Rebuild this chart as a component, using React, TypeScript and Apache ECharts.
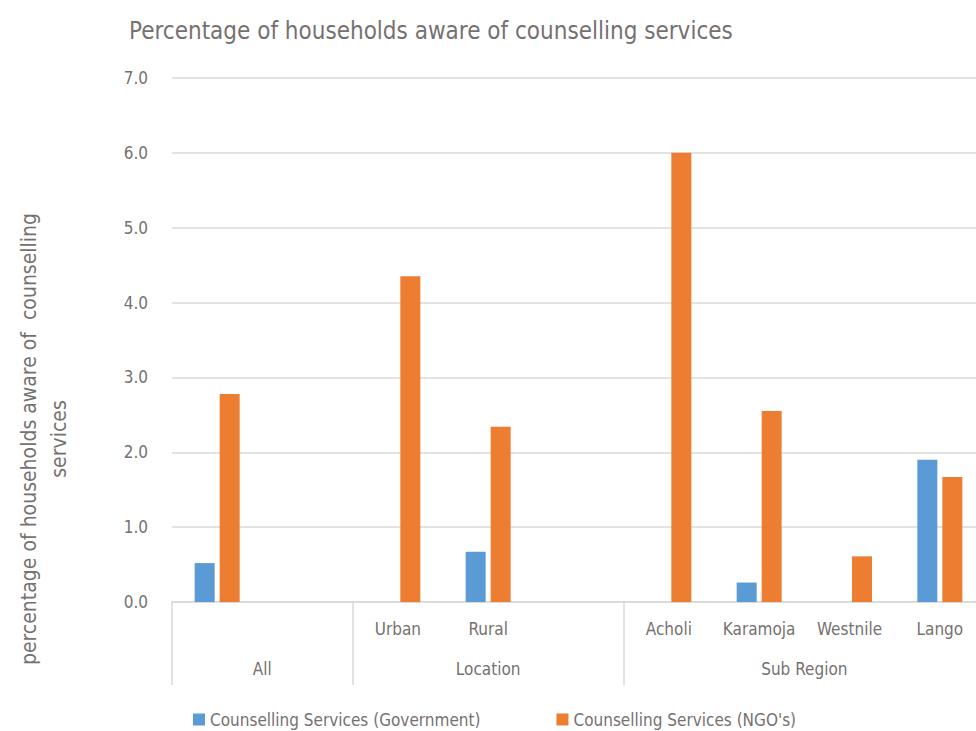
import React, { useEffect, useRef } from "react";
import * as echarts from "echarts";

const categories = ["All", "_gap1", "Urban", "Rural", "_gap2", "Acholi", "Karamoja", "Westnile", "Lango"];
const subLabels = ["", "", "Urban", "Rural", "", "Acholi", "Karamoja", "Westnile", "Lango"];
const govValues = [0.52, 0, 0, 0.67, 0, 0, 0.26, 0, 1.9];
const ngoValues = [2.78, 0, 4.35, 2.34, 0, 6.0, 2.55, 0.61, 1.67];
const groupNames = ["All", "Location", "Sub Region"];
const groupSizes = [2, 3, 4];
const yTicks = [0, 1, 2, 3, 4, 5, 6, 7];

const FONT = "'Liberation Sans Narrow', 'DejaVu Sans Condensed', 'Roboto Condensed', 'Liberation Sans', sans-serif";
const TEXT = "#767171";
const GRID = "#d9d9d9";

export default function App() {
  const ref = useRef<HTMLDivElement>(null);
  useEffect(() => {
    if (!ref.current) return;
    const chart = echarts.init(ref.current, null, { renderer: "svg" });
    const bounds: number[] = [0];
    const centers: number[] = [];
    groupSizes.forEach((s, i) => {
      centers.push(bounds[i] + s / 2);
      bounds.push(bounds[i] + s);
    });
    const total = bounds[bounds.length - 1];
    chart.setOption({
      animation: false,
      textStyle: { fontFamily: FONT },
      title: {
        text: "Percentage of households aware of counselling services",
        left: 124,
        top: 14,
        textStyle: { fontFamily: FONT, fontSize: 24, fontWeight: "normal", color: TEXT },
      },
      legend: {
        bottom: -2,
        left: 188,
        itemWidth: 12,
        itemHeight: 12,
        itemGap: 76,
        icon: "rect",
        textStyle: { fontFamily: FONT, fontSize: 17, color: TEXT },
        data: ["Counselling Services (Government)", "Counselling Services (NGO's)"],
      },
      grid: { left: 172, top: 78, width: 813, height: 524, outerBoundsMode: "none", containLabel: false },
      xAxis: [
        {
          type: "category",
          data: categories,
          boundaryGap: true,
          axisLine: { show: true, lineStyle: { color: GRID, width: 1.5 } },
          axisTick: { show: false },
          axisLabel: {
            interval: 0,
            margin: 18,
            fontFamily: FONT,
            fontSize: 17,
            color: TEXT,
            formatter: (_v: string, i: number) => subLabels[i],
          },
        },
        {
          type: "value",
          position: "bottom",
          min: 0,
          max: total,
          axisLine: { show: false },
          splitLine: { show: false },
          axisTick: {
            show: true,
            customValues: bounds,
            length: 83,
            lineStyle: { color: GRID, width: 1.5 },
          },
          axisLabel: {
            customValues: centers,
            margin: 58,
            fontFamily: FONT,
            fontSize: 17,
            color: TEXT,
            formatter: (v: number) => {
              const idx = centers.findIndex((c) => Math.abs(c - v) < 1e-6);
              return idx >= 0 ? groupNames[idx] : "";
            },
          },
        },
      ],
      yAxis: {
        type: "value",
        min: yTicks[0],
        max: yTicks[yTicks.length - 1],
        interval: 1,
        axisLine: { show: false },
        axisTick: { show: false },
        splitLine: { lineStyle: { color: GRID, width: 1.5 } },
        axisLabel: {
          margin: 24,
          fontFamily: FONT,
          fontSize: 17,
          color: TEXT,
          formatter: (v: number) => v.toFixed(1),
        },
        name: "percentage of households aware of  counselling\nservices",
        nameLocation: "middle",
        nameGap: 98,
        nameRotate: 90,
        nameTextStyle: {
          fontFamily: FONT,
          fontSize: 21,
          color: TEXT,
          lineHeight: 30,
          padding: [0, 198, 0, 0],
        },
      },
      series: [
        {
          name: "Counselling Services (Government)",
          type: "bar",
          data: govValues,
          barWidth: 20,
          barGap: "25%",
          itemStyle: { color: "#5B9BD5" },
        },
        {
          name: "Counselling Services (NGO's)",
          type: "bar",
          data: ngoValues,
          barWidth: 20,
          itemStyle: { color: "#ED7D31" },
        },
      ],
    });
    return () => chart.dispose();
  }, []);
  return (
    <div
      ref={ref}
      style={{ position: "fixed", left: 0, top: 0, width: 976, height: 731, background: "#fff" }}
    />
  );
}
